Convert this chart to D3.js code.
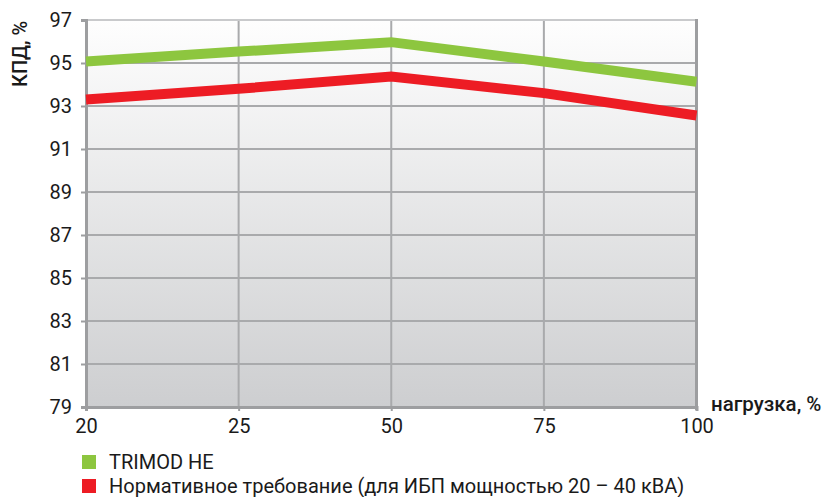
<!DOCTYPE html>
<html>
<head>
<meta charset="utf-8">
<script src="https://cdn.jsdelivr.net/npm/d3@7"></script>
<style>
  body { margin: 0; background: #fff; }
  svg { display: block; font-family: Roboto, "Noto Sans", sans-serif; }
</style>
</head>
<body>
<div id="chart"></div>
<script>
// load levels (categorical, evenly spaced on the chart)
const loads = ["20", "25", "50", "75", "100"];
const yTicks = [79, 81, 83, 85, 87, 89, 91, 93, 95, 97];

const trimod = [95.07, 95.53, 95.97, 95.07, 94.13];
const norm = [93.3, 93.8, 94.37, 93.6, 92.56];

const seriesNames = ["TRIMOD HE", "Нормативное требование (для ИБП мощностью 20 – 40 кВА)"];
const seriesColors = ["#8dc63f", "#ed1c24"];

const width = 825, height = 497;
const plot = {left: 86, right: 696.5, top: 20, bottom: 407};

const svg = d3.select("#chart").append("svg")
    .attr("width", width)
    .attr("height", height);

const defs = svg.append("defs");
const grad = defs.append("linearGradient")
    .attr("id", "bg")
    .attr("x1", 0).attr("y1", 0).attr("x2", 0).attr("y2", 1);
grad.append("stop").attr("offset", "0%").attr("stop-color", "#fefefe");
grad.append("stop").attr("offset", "100%").attr("stop-color", "#cdced0");

const x = d3.scalePoint().domain(loads).range([plot.left, plot.right]);
const y = d3.scaleLinear().domain([79, 97]).range([plot.bottom, plot.top]);

// plot background
svg.append("rect")
    .attr("x", plot.left).attr("y", plot.top)
    .attr("width", plot.right - plot.left).attr("height", plot.bottom - plot.top)
    .attr("fill", "url(#bg)");

// horizontal grid
svg.append("g")
    .selectAll("line")
    .data(yTicks.filter(d => d > 79 && d < 97))
    .join("line")
    .attr("x1", plot.left).attr("x2", plot.right)
    .attr("y1", d => y(d)).attr("y2", d => y(d))
    .attr("stroke", "#a9aaac")
    .attr("stroke-width", 2);

// vertical grid
svg.append("g")
    .selectAll("line")
    .data(loads.slice(1, -1))
    .join("line")
    .attr("x1", d => x(d)).attr("x2", d => x(d))
    .attr("y1", plot.top).attr("y2", plot.bottom)
    .attr("stroke", "#a9aaac")
    .attr("stroke-width", 2);

// frame
svg.append("line")
    .attr("x1", plot.left).attr("x2", plot.right).attr("y1", plot.top).attr("y2", plot.top)
    .attr("stroke", "#c9cacc").attr("stroke-width", 2);
svg.append("line")
    .attr("x1", plot.right).attr("x2", plot.right).attr("y1", plot.top - 1).attr("y2", plot.bottom + 3)
    .attr("stroke", "#9d9ea0").attr("stroke-width", 3);

// y axis
const yAxis = d3.axisLeft(y).tickValues(yTicks).tickSize(5).tickPadding(9);
const yg = svg.append("g")
    .attr("transform", `translate(${plot.left},0)`)
    .call(yAxis);
yg.select(".domain").attr("stroke", "#9d9ea0").attr("stroke-width", 3);
yg.selectAll(".tick line").attr("stroke", "#9d9ea0").attr("stroke-width", 2);
yg.selectAll(".tick text")
    .attr("font-size", 20)
    .attr("font-family", "Roboto, sans-serif")
    .attr("fill", "#1a1a1a");

// x axis
const xAxis = d3.axisBottom(x).tickSize(4).tickPadding(8);
const xg = svg.append("g")
    .attr("transform", `translate(0,${plot.bottom})`)
    .call(xAxis);
xg.select(".domain").attr("stroke", "#9d9ea0").attr("stroke-width", 3);
xg.selectAll(".tick line").attr("stroke", "#9d9ea0").attr("stroke-width", 2);
xg.selectAll(".tick text")
    .attr("font-size", 20)
    .attr("font-family", "Roboto, sans-serif")
    .attr("fill", "#1a1a1a");

// lines
const line = d3.line()
    .x((d, i) => x(loads[i]))
    .y(d => y(d));

[trimod, norm].forEach((s, i) => {
    svg.append("path")
        .datum(s)
        .attr("d", line)
        .attr("fill", "none")
        .attr("stroke", seriesColors[i])
        .attr("stroke-width", 10)
        .attr("stroke-linejoin", "miter");
});

// axis titles
svg.append("text")
    .attr("transform", "translate(27,87) rotate(-90)")
    .attr("font-size", 20)
    .attr("font-weight", 500)
    .attr("fill", "#1a1a1a")
    .text("КПД, %");

svg.append("text")
    .attr("x", 711).attr("y", 411)
    .attr("font-size", 20.5)
    .attr("font-weight", 500)
    .attr("fill", "#1a1a1a")
    .text("нагрузка, %");

// legend
const legend = svg.append("g")
    .attr("transform", "translate(82,455)");
const items = legend.selectAll("g")
    .data(seriesNames)
    .join("g")
    .attr("transform", (d, i) => `translate(0,${i * 24})`);
items.append("rect")
    .attr("width", 14).attr("height", 14)
    .attr("fill", (d, i) => seriesColors[i]);
items.append("text")
    .attr("x", 27).attr("y", 14)
    .attr("font-size", 20)
    .attr("fill", "#1a1a1a")
    .text(d => d);
</script>
</body>
</html>
